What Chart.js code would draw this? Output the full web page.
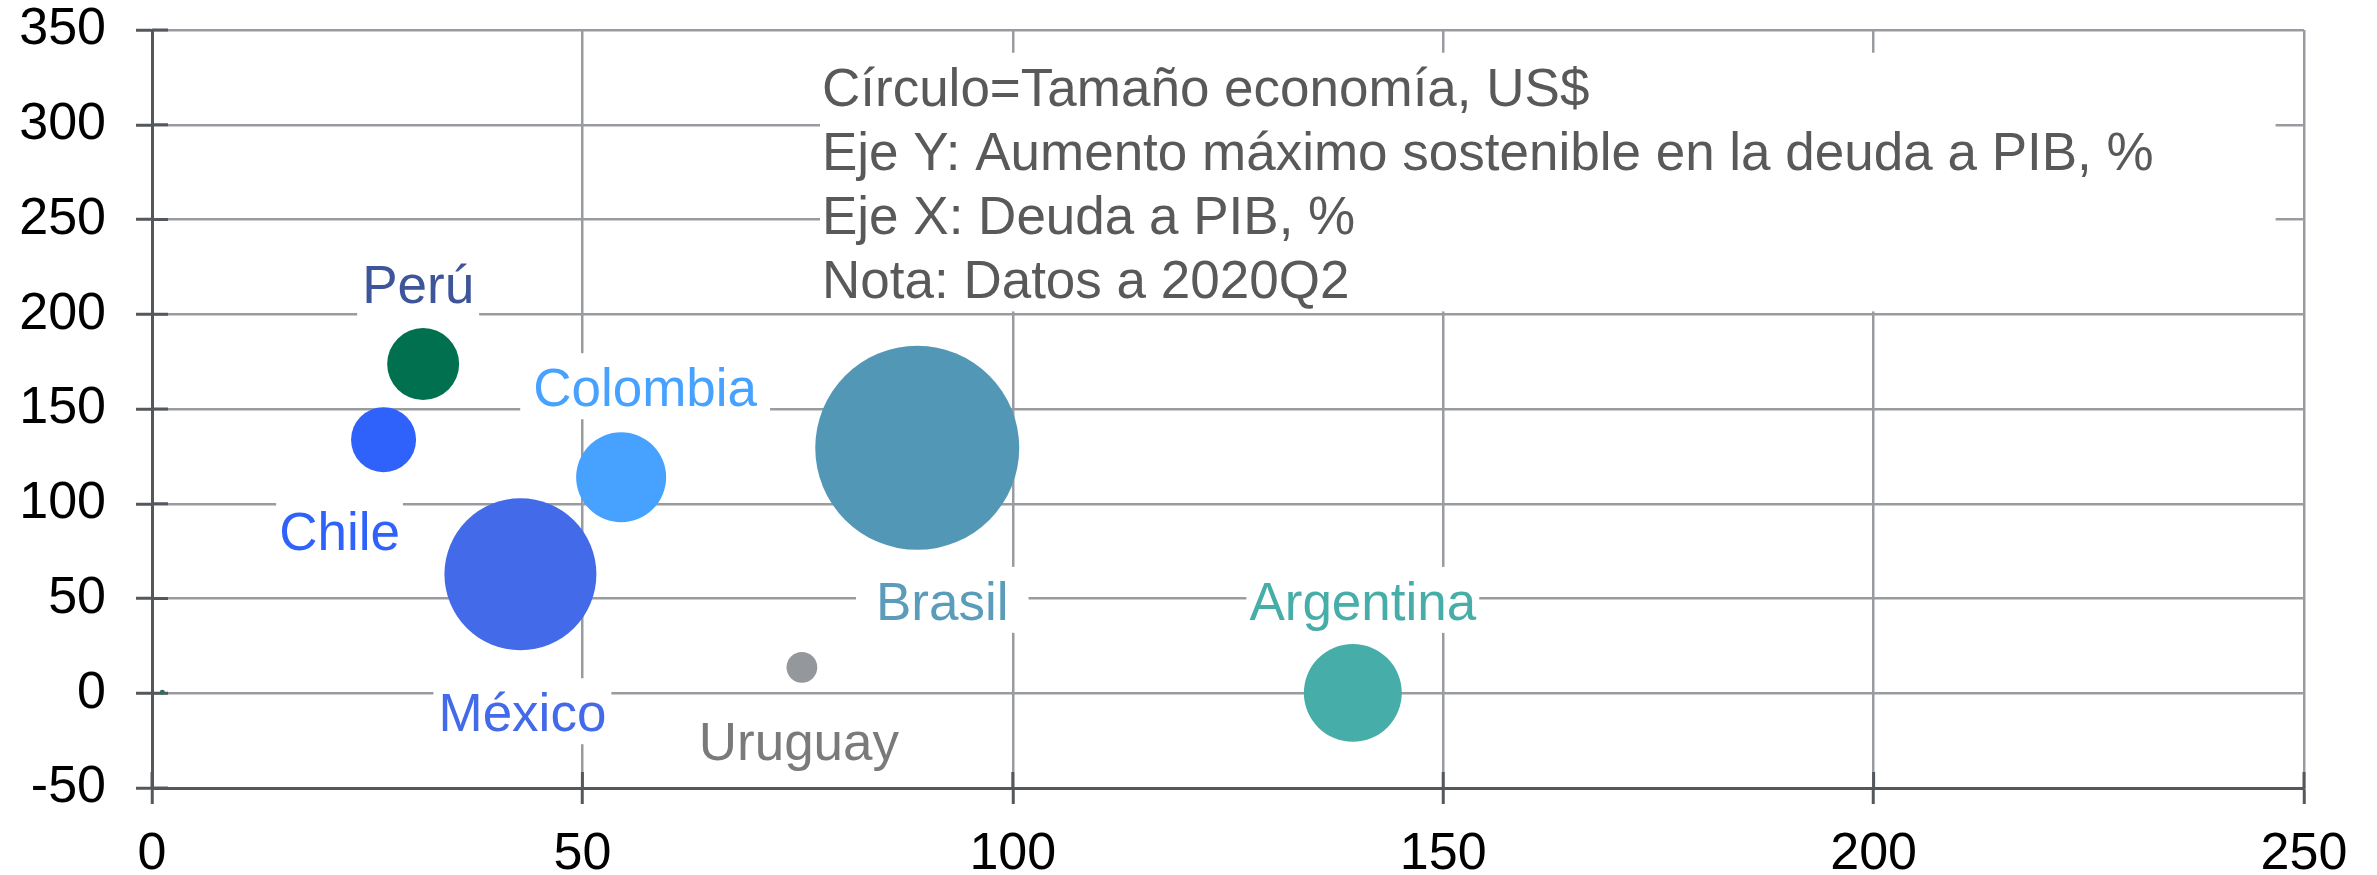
<!DOCTYPE html>
<html>
<head>
<meta charset="utf-8">
<script src="https://cdn.jsdelivr.net/npm/chart.js@4.4.1/dist/chart.umd.min.js"></script>
<style>
    html, body { margin: 0; padding: 0; background: #fff; }
    #wrap { width: 2377px; height: 875px; }
</style>
</head>
<body>
<div id="wrap"><canvas id="bubbleChart" width="2377" height="875"></canvas></div>
<script>
// ==========================
// DATA
// ==========================

const countries       = ['Perú', 'Chile', 'Colombia', 'México', 'Brasil', 'Uruguay', 'Argentina', ''];
const debtToGdp       = [31.5, 26.9, 54.5, 42.8, 88.9, 75.5, 139.5, 1.2];   // X, %
const maxDebtIncrease = [173.7, 133.8, 114, 62.8, 129.5, 13.7, 0.2, 0.5];   // Y, %
const economySizeBn   = [229, 187, 358, 1021, 1840, 42, 424, 1.1];          // circle size, US$ bn

const xTicks = [0, 50, 100, 150, 200, 250];
const yTicks = [-50, 0, 50, 100, 150, 200, 250, 300, 350];

const noteLines = [
    'Círculo=Tamaño economía, US$',
    'Eje Y: Aumento máximo sostenible en la deuda a PIB, %',
    'Eje X: Deuda a PIB, %',
    'Nota: Datos a 2020Q2'
];

// ==========================
// STYLE
// ==========================

const FONT = '"Liberation Sans", Arial, sans-serif';
const GRID = '#989b9f';
const AXIS = '#54585d';
const TICK_FONT = 52;
const RADIUS_PER_SQRT_BN = 2.378;

const bubbleColors = ['#00704f', '#2f62fb', '#47a1fe', '#436ae8', '#5298b6', '#94989c', '#47ada8', '#2f6d62'];
const labelColors  = ['#3e5599', '#2f62fb', '#47a1fe', '#436ae8', '#5a9cba', '#7a7a7a', '#47ada8', '#000'];

// label centre / baseline offset from the bubble centre, px
const labelOffsets = [
    { dx: -5,  dy: -61, pad: 5 },
    { dx: -44, dy: 110, pad: 3 },
    { dx: 24,  dy: -71, pad: 13 },
    { dx: 2,   dy: 157, pad: 5 },
    { dx: 25,  dy: 172, pad: 20 },
    { dx: -3,  dy: 93,  pad: 5 },
    { dx: 10,  dy: -73, pad: 3 },
    { dx: 0,   dy: 0,   pad: 0 }
];

const points = countries.map((name, i) => ({
    x: debtToGdp[i],
    y: maxDebtIncrease[i],
    r: RADIUS_PER_SQRT_BN * Math.sqrt(economySizeBn[i])
}));

// ==========================
// PLUGINS
// ==========================

const decorations = {
    id: 'decorations',
    beforeDatasetsDraw(chart) {
        const { ctx, chartArea } = chart;
        const xs = chart.scales.x;
        const ys = chart.scales.y;

        ctx.save();

        // tick marks crossing into the plot
        ctx.strokeStyle = AXIS;
        ctx.lineWidth = 3;
        ys.ticks.forEach(t => {
            const py = ys.getPixelForValue(t.value);
            ctx.beginPath();
            ctx.moveTo(chartArea.left, py);
            ctx.lineTo(chartArea.left + 16, py);
            ctx.stroke();
        });
        xs.ticks.forEach(t => {
            const px = xs.getPixelForValue(t.value);
            ctx.beginPath();
            ctx.moveTo(px, chartArea.bottom);
            ctx.lineTo(px, chartArea.bottom - 16);
            ctx.stroke();
        });

        // note box
        const nx0 = xs.getPixelForValue(77.6);
        const nx1 = xs.getPixelForValue(246.7);
        const ny0 = ys.getPixelForValue(338);
        const ny1 = ys.getPixelForValue(201.5);
        ctx.fillStyle = '#fff';
        ctx.fillRect(nx0, ny0, nx1 - nx0, ny1 - ny0);
        ctx.font = `53px ${FONT}`;
        ctx.fillStyle = '#595959';
        ctx.textAlign = 'left';
        ctx.textBaseline = 'alphabetic';
        noteLines.forEach((line, i) => {
            ctx.fillText(line, nx0 + 2, ny0 + 53 + i * 64);
        });

        // country labels
        ctx.font = `53px ${FONT}`;
        ctx.textAlign = 'center';
        chart.getDatasetMeta(0).data.forEach((pt, i) => {
            const name = countries[i];
            if (!name) return;
            const off = labelOffsets[i];
            const cx = pt.x + off.dx;
            const by = pt.y + off.dy;
            const w = ctx.measureText(name).width + 2 * off.pad;
            ctx.fillStyle = '#fff';
            ctx.fillRect(cx - w / 2, by - 53, w, 66);
            ctx.fillStyle = labelColors[i];
            ctx.fillText(name, cx, by);
        });

        ctx.restore();
    }
};

// ==========================
// CHART
// ==========================

new Chart(document.getElementById('bubbleChart'), {
    type: 'bubble',
    data: {
        datasets: [{
            data: points,
            backgroundColor: bubbleColors,
            borderColor: bubbleColors,
            borderWidth: 0,
            hoverBorderWidth: 0
        }]
    },
    options: {
        responsive: false,
        animation: false,
        events: [],
        layout: {
            autoPadding: false,
            padding: { top: 30, right: 73, left: 0, bottom: 0 }
        },
        plugins: {
            legend: { display: false },
            tooltip: { enabled: false }
        },
        scales: {
            x: {
                type: 'linear',
                min: 0,
                max: 250,
                afterBuildTicks: s => { s.ticks = xTicks.map(v => ({ value: v })); },
                afterFit: s => { s.height = 87; },
                grid: {
                    color: c => (c.tick && c.tick.value === 0) ? 'rgba(0,0,0,0)' : GRID,
                    lineWidth: 2.5,
                    tickLength: 16,
                    tickColor: AXIS,
                    tickWidth: 3
                },
                border: { color: AXIS, width: 3 },
                ticks: {
                    color: '#000',
                    padding: 25,
                    maxRotation: 0,
                    font: { family: FONT, size: TICK_FONT, lineHeight: 1 }
                }
            },
            y: {
                type: 'linear',
                min: -50,
                max: 350,
                afterBuildTicks: s => { s.ticks = yTicks.map(v => ({ value: v })); },
                afterFit: s => {
                    s.width = 152;
                    s.paddingTop = 0;
                    s.paddingBottom = 0;
                },
                grid: {
                    color: c => (c.tick && c.tick.value === -50) ? 'rgba(0,0,0,0)' : GRID,
                    lineWidth: 2.5,
                    tickLength: 16,
                    tickColor: AXIS,
                    tickWidth: 3
                },
                border: { color: AXIS, width: 3 },
                ticks: {
                    color: '#000',
                    padding: 30,
                    font: { family: FONT, size: TICK_FONT, lineHeight: 1 }
                }
            }
        }
    },
    plugins: [decorations]
});
</script>
</body>
</html>
